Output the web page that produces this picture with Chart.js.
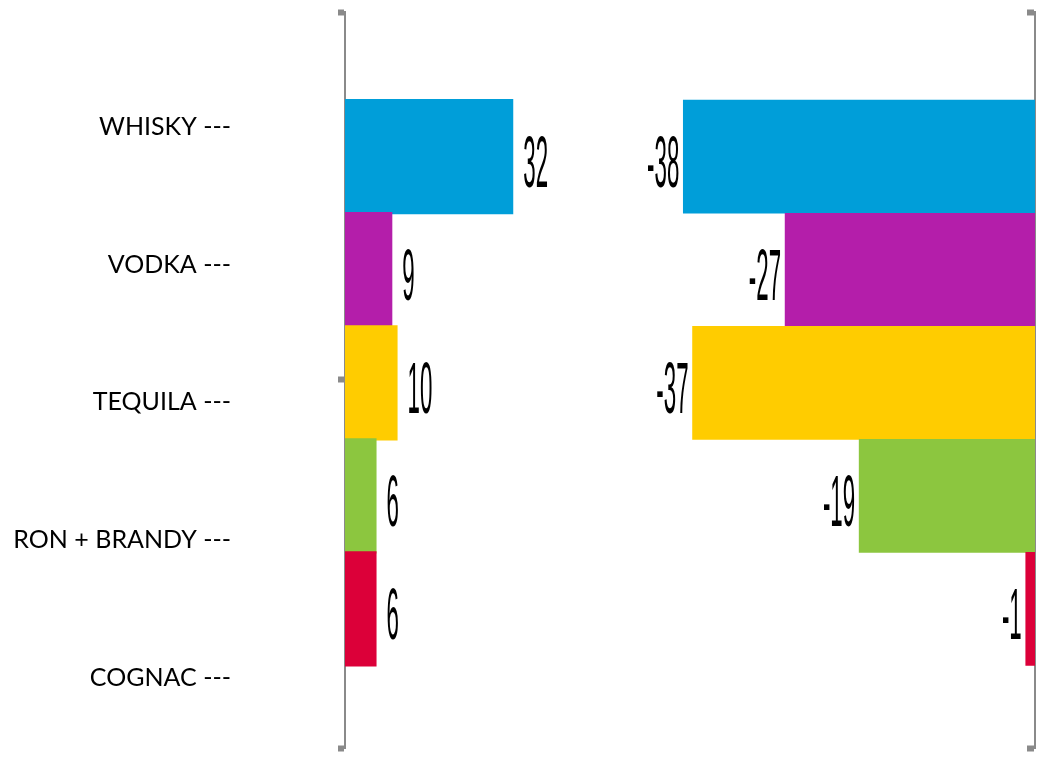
<!DOCTYPE html>
<html>
<head>
<meta charset="utf-8">
<title>Spirits: share vs change</title>
<script src="https://cdn.jsdelivr.net/npm/chart.js@4.4.1/dist/chart.umd.min.js"></script>
<style>
  html, body { margin: 0; padding: 0; background: #ffffff; }
  #wrap { position: relative; width: 1037px; height: 757px; }
</style>
</head>
<body>
<div id="wrap"><canvas id="chart" width="1037" height="757"></canvas></div>
<script>
// Categories and the two series (left panel positive, right panel negative)
const categories = ['WHISKY', 'VODKA', 'TEQUILA', 'RON + BRANDY', 'COGNAC'];
const leftValues = [32, 9, 10, 6, 6];
const rightValues = [-38, -27, -37, -19, -1];
const barColors = ['#009ED9', '#B41EAA', '#FFCC00', '#8CC63F', '#DC0039'];

const AXIS_GREY = '#8A8A8A';

// Vertical layout of the rows (bar rows and label rows use their own linear ranges)
const barRows = { min: -1.28, max: 5.23 };
const labelRows = { min: -0.83, max: 4.505 };

// Tick marks only at the two ends and the middle of each bracket axis
function bracketTicks(scale) {
  scale.ticks = [
    { value: scale.min },
    { value: (scale.min + scale.max) / 2 },
    { value: scale.max }
  ];
}

const bracketAxis = (position) => ({
  type: 'linear',
  position: position,
  reverse: true,
  offset: false,
  min: barRows.min,
  max: barRows.max,
  z: 1,
  afterBuildTicks: bracketTicks,
  ticks: { display: false },
  grid: {
    offset: false,
    drawOnChartArea: false,
    drawTicks: true,
    tickLength: 7,
    tickWidth: 6,
    tickColor: AXIS_GREY
  },
  border: { display: true, color: AXIS_GREY, width: 2 }
});

// Value labels drawn next to each bar in a tall, narrow face
const valueLabels = {
  id: 'valueLabels',
  afterDatasetsDraw(chart) {
    const ctx = chart.ctx;
    chart.data.datasets.forEach((ds, di) => {
      const meta = chart.getDatasetMeta(di);
      meta.data.forEach((bar, i) => {
        const v = ds.data[i].x;
        const neg = v < 0;
        ctx.save();
        ctx.font = '72px "Liberation Sans", Arial, sans-serif';
        ctx.fillStyle = '#000000';
        ctx.textBaseline = 'alphabetic';
        ctx.textAlign = neg ? 'right' : 'left';
        ctx.translate(bar.x + (neg ? -4 : 10), bar.y + 30);
        ctx.scale(0.31, 1);
        ctx.fillText(String(v), 0, 0);
        ctx.restore();
      });
    });
  }
};

const leftAxis = bracketAxis('left');
leftAxis.weight = 0;
leftAxis.afterFit = (s) => { s.width = 103; s.paddingTop = 0; s.paddingBottom = 0; };

const rightAxis = bracketAxis({ x2: 0 });

new Chart(document.getElementById('chart'), {
  type: 'bar',
  data: {
    datasets: [
      {
        label: 'left',
        data: leftValues.map((v, i) => ({ x: v, y: i })),
        backgroundColor: barColors,
        xAxisID: 'x',
        yAxisID: 'y',
        grouped: false,
        barPercentage: 1.02,
        categoryPercentage: 1,
        borderWidth: 0
      },
      {
        label: 'right',
        data: rightValues.map((v, i) => ({ x: v, y: i })),
        backgroundColor: barColors,
        xAxisID: 'x2',
        yAxisID: 'y',
        grouped: false,
        barPercentage: 1.0,
        categoryPercentage: 1,
        borderWidth: 0
      }
    ]
  },
  options: {
    indexAxis: 'y',
    responsive: false,
    animation: false,
    events: [],
    layout: { padding: { top: 12, bottom: 9, left: 0, right: 2 } },
    plugins: {
      legend: { display: false },
      tooltip: { enabled: false }
    },
    scales: {
      x: {
        type: 'linear', position: 'bottom', stack: 'panels', stackWeight: 255,
        min: 0, max: 48.5, display: false
      },
      x2: {
        type: 'linear', position: 'bottom', stack: 'panels', stackWeight: 435,
        min: -47, max: 0, display: false
      },
      yLabels: {
        type: 'linear',
        position: 'left',
        weight: 1,
        reverse: true,
        offset: false,
        min: labelRows.min,
        max: labelRows.max,
        afterBuildTicks: (s) => { s.ticks = categories.map((_, i) => ({ value: i })); },
        afterFit: (s) => { s.width = 242; s.paddingTop = 0; s.paddingBottom = 0; },
        ticks: {
          autoSkip: false,
          padding: 3,
          color: '#000000',
          font: { family: 'Lato', size: 25 },
          callback: (v) => categories[v] + ' ---'
        },
        grid: { display: false, offset: false },
        border: { display: false }
      },
      y: leftAxis,
      yRight: rightAxis
    }
  },
  plugins: [valueLabels]
});
</script>
</body>
</html>
